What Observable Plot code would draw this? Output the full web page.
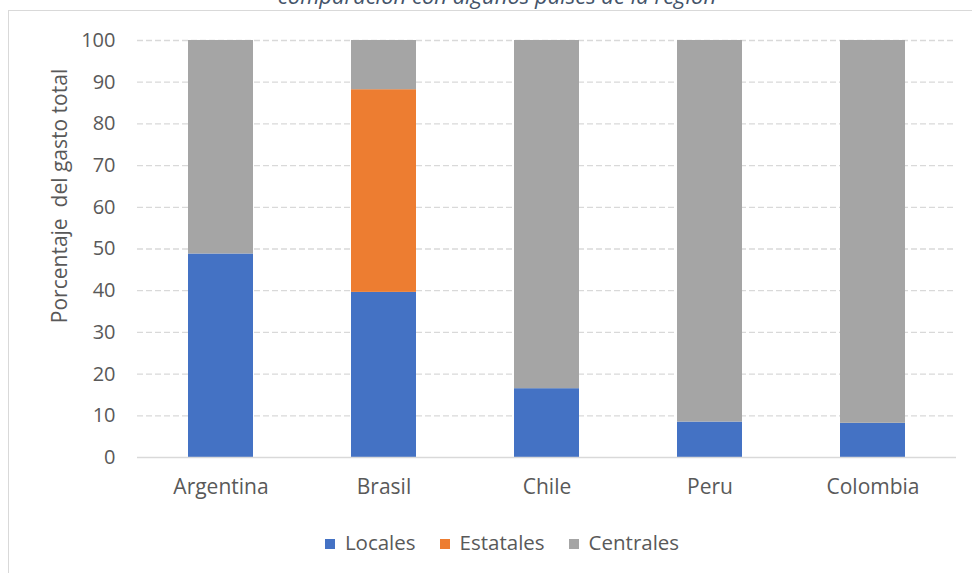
<!DOCTYPE html>
<html>
<head>
<meta charset="utf-8">
<script src="https://cdn.jsdelivr.net/npm/d3@7"></script>
<script src="https://cdn.jsdelivr.net/npm/@observablehq/plot@0.6"></script>
<style>
  html, body { margin: 0; padding: 0; background: #fff; }
  #wrap { position: relative; width: 972px; height: 573px; overflow: hidden; font-family: "Open Sans", sans-serif; }
  #frame { position: absolute; left: 8px; top: 10px; width: 1200px; height: 1200px; border-left: 1px solid #d9d9d9; border-top: 1px solid #d9d9d9; }
  #title { position: absolute; left: 0; top: 0; }
  #chart { position: absolute; left: 0; top: 0; }
  #ylabel { position: absolute; left: 59px; top: 196px; transform: translate(-50%, -50%) rotate(-90deg); white-space: pre; font-size: 21px; line-height: 24px; color: #595959; }
  #legend { position: absolute; top: 528px; left: 0; width: 1004px; text-align: center; font-size: 20.5px; line-height: 28px; color: #595959; white-space: nowrap; }
  #legend span.item { display: inline-block; margin: 0 12px; }
  #legend span.sw { display: inline-block; width: 10px; height: 10px; margin-right: 10px; vertical-align: 1px; }
</style>
</head>
<body>
<div id="wrap">
  <div id="frame"></div>
  <svg id="title" width="972" height="12"><text x="497" y="4" text-anchor="middle" font-family="Open Sans, sans-serif" font-style="italic" font-size="22" fill="#44546A">comparación con algunos países de la región</text></svg>
  <div id="chart"></div>
  <div id="ylabel">Porcentaje  del gasto total</div>
  <div id="legend"></div>
</div>
<script>
const countries = ["Argentina", "Brasil", "Chile", "Peru", "Colombia"];
const seriesNames = ["Locales", "Estatales", "Centrales"];
const seriesColors = ["#4472C4", "#ED7D31", "#A5A5A5"];
const locales   = [48.8, 39.6, 16.5, 8.5, 8.2];
const estatales = [0, 48.6, 0, 0, 0];
const centrales = [51.2, 11.8, 83.5, 91.5, 91.8];
const yTicks = [0, 10, 20, 30, 40, 50, 60, 70, 80, 90, 100];

const seriesValues = [locales, estatales, centrales];
const data = [];
seriesNames.forEach((s, si) => {
  countries.forEach((c, ci) => {
    data.push({country: c, series: s, value: seriesValues[si][ci]});
  });
});

const chart = Plot.plot({
  width: 972,
  height: 500,
  marginTop: 40,
  marginBottom: 43,
  marginLeft: 137,
  marginRight: 16,
  style: {fontFamily: "Open Sans, sans-serif", fontSize: "20px", color: "#595959", background: "transparent"},
  x: {domain: countries, paddingInner: 0.6, paddingOuter: 0.3, label: null},
  y: {domain: [0, 100], label: null},
  color: {domain: seriesNames, range: seriesColors},
  marks: [
    Plot.ruleY(yTicks.filter(d => d > 0), {stroke: "#d9d9d9", strokeWidth: 1.3, strokeDasharray: "6,3"}),
    Plot.barY(data, Plot.stackY({order: seriesNames, x: "country", y: "value", fill: "series"})),
    Plot.ruleY([0], {stroke: "#d9d9d9", strokeWidth: 1.3}),
    Plot.axisX({tickSize: 0, tickPadding: 22, fontSize: 21, fill: "#595959", label: null}),
    Plot.axisY({ticks: yTicks, tickSize: 0, tickPadding: 22, fontSize: 20, fill: "#595959", label: null})
  ]
});
document.getElementById("chart").appendChild(chart);

const legend = document.getElementById("legend");
seriesNames.forEach((s, i) => {
  const item = document.createElement("span");
  item.className = "item";
  const sw = document.createElement("span");
  sw.className = "sw";
  sw.style.background = seriesColors[i];
  item.appendChild(sw);
  item.appendChild(document.createTextNode(s));
  legend.appendChild(item);
});
</script>
</body>
</html>
